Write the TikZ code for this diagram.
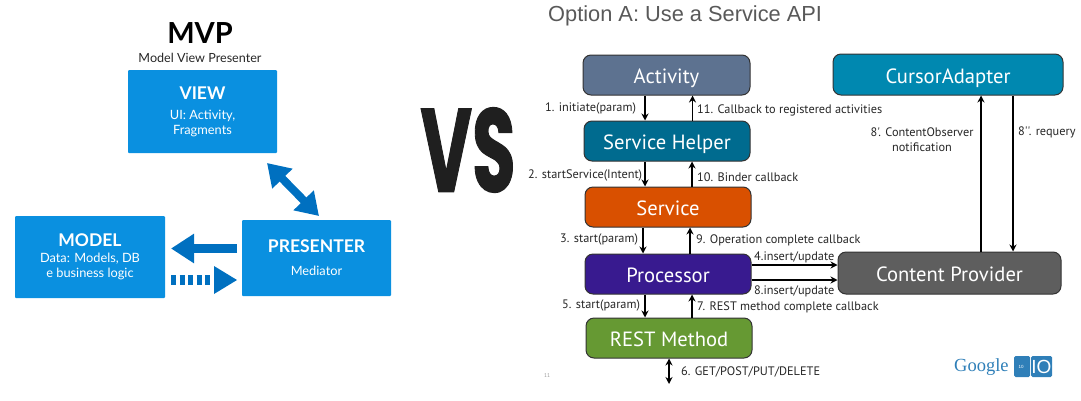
\documentclass[tikz,border=0pt]{standalone}
\usepackage{fontspec}
\usetikzlibrary{arrows.meta,calc}
\setmainfont{Lato}
\newfontfamily\slidefont{PT Sans}
\newfontfamily\titlefont{Liberation Sans}
\newfontfamily\logofont{Liberation Serif}
\newfontfamily\brushfont[FakeBold=1.2]{Poppins Bold}
\definecolor{mvpblue}{HTML}{0A90E0}
\definecolor{mvparrow}{HTML}{0070C0}
\definecolor{activityc}{HTML}{5D7290}
\definecolor{helperc}{HTML}{006B8F}
\definecolor{servicec}{HTML}{D95000}
\definecolor{processorc}{HTML}{381A8F}
\definecolor{restc}{HTML}{669933}
\definecolor{cursorc}{HTML}{0088B0}
\definecolor{providerc}{HTML}{5E5E5E}
\definecolor{titlegray}{HTML}{595959}
\definecolor{logoblue}{HTML}{2F7FB8}
\newcommand{\boxhead}[1]{{\bfseries\fontsize{17.5}{18}\selectfont #1}}
\newcommand{\boxtext}[1]{{\fontsize{12.8}{15}\selectfont #1}}
\tikzset{
  mvpbox/.style={fill=mvpblue,rounded corners=1pt,inner sep=0pt,text=white,align=center},
  flowbox/.style={draw=black!80,line width=1pt,rounded corners=8pt,inner sep=0pt,text=white,
    text height=18pt,text depth=1pt,font=\slidefont\fontsize{20.6}{22}\selectfont},
  flow/.style={line width=1.6pt,-{Stealth[length=7pt,width=7pt]}},
  flowthin/.style={line width=1.1pt,-{Stealth[length=7pt,width=7pt]}},
  lbl/.style={inner sep=0pt,anchor=west,text=black!85,font=\slidefont\fontsize{12.3}{15}\selectfont},
  bigarrow/.style={line width=9pt,color=mvparrow,-{Triangle[length=23pt,width=28pt]}},
}
\newcommand{\boxat}[7]{\node[#1,minimum width=#5pt-#3pt,minimum height=#6pt-#4pt] (#2) at ({(#3+#5)/2},{(#4+#6)/2}) {#7};}
\begin{document}
\begin{tikzpicture}[x=1pt,y=-1pt]
\useasboundingbox (0,0) rectangle (1081,400);

% MVP side
\node[inner sep=0pt,font=\bfseries\fontsize{29}{30}\selectfont] (mvptitle) at (200,33) {MVP};
\node[inner sep=0pt,font=\fontsize{12.6}{15}\selectfont,text=black!85] (mvpsub) at (200,57.5) {Model View Presenter};
\boxat{mvpbox}{view}{128}{70}{277}{153}{\boxhead{VIEW}\\[8pt]\boxtext{UI: Activity,}\\[3pt]\boxtext{Fragments}}
\boxat{mvpbox}{model}{15}{216}{165}{298}{\boxhead{MODEL}\\[4pt]\boxtext{Data: Models, DB}\\[3pt]\boxtext{e business logic}}
\boxat{mvpbox}{presenter}{242}{220}{391}{296}{\boxhead{PRESENTER}\\[11pt]\boxtext{Mediator}}

\coordinate (vp1) at (267,163);
\coordinate (vp2) at (319,216);
\draw[line width=8pt,color=mvparrow,{Triangle[length=22pt,width=27pt]}-{Triangle[length=22pt,width=27pt]}] (vp1) -- (vp2);
\coordinate (pm1) at (237,248.5);
\coordinate (pm2) at (171,248.5);
\draw[bigarrow] (pm1) -- (pm2);
\coordinate (mp1) at (171,280);
\coordinate (mp2) at (237,280);
\draw[line width=10pt,color=mvparrow,dash pattern=on 5pt off 3.5pt] (mp1) -- (212,280);
\fill[mvparrow] (mp2) -- ++(-23,-14) -- ++(0,28) -- cycle;

% Divider lettering
\node[inner sep=0pt,text=black!88,font=\brushfont\fontsize{118}{118}\selectfont,xscale=.6] (versus) at (468,150) {VS};

% Service API side
\node[inner sep=0pt,anchor=west,text=titlegray,font=\titlefont\fontsize{21.8}{24}\selectfont] (title) at (548,16) {Option A: Use a Service API};

\boxat{flowbox,fill=activityc}{activity}{583}{55}{750}{95}{Activity}
\boxat{flowbox,fill=helperc}{helper}{584}{121}{750}{161}{Service Helper}
\boxat{flowbox,fill=servicec}{service}{585}{187}{751}{227}{Service}
\boxat{flowbox,fill=processorc}{processor}{585}{254}{751}{294}{Processor}
\boxat{flowbox,fill=restc}{rest}{586}{318}{752}{358}{REST Method}
\boxat{flowbox,fill=cursorc}{cursor}{833}{54}{1063}{95}{CursorAdapter}
\boxat{flowbox,fill=providerc}{provider}{838}{252}{1061}{294}{Content Provider}

\draw[flow] (activity.south -| 645,0) -- (helper.north -| 645,0);
\draw[flow] (helper.north -| 692.5,0) -- (activity.south -| 692.5,0);
\draw[flow] (helper.south -| 645,0) -- (service.north -| 645,0);
\draw[flow] (service.north -| 692,0) -- (helper.south -| 692,0);
\draw[flow] (service.south -| 643,0) -- (processor.north -| 643,0);
\draw[flow] (processor.north -| 690,0) -- (service.south -| 690,0);
\draw[flow] (processor.south -| 645,0) -- (rest.north -| 645,0);
\draw[flow] (rest.north -| 692,0) -- (processor.south -| 692,0);
\draw[flowthin] (processor.east |- 0,265) -- (provider.west |- 0,265);
\draw[flow] (processor.east |- 0,280) -- (provider.west |- 0,280);
\draw[flow] (provider.north -| 981,0) -- (cursor.south -| 981,0);
\draw[flowthin] (cursor.south -| 1013,0) -- (provider.north -| 1013,0);
\coordinate (netend) at (669,384);
\draw[flow,{Stealth[length=7pt,width=7pt]}-{Stealth[length=7pt,width=7pt]}] (rest.south -| netend) -- (netend);

\node[lbl] (l1) at (545,108) {1. initiate(param)};
\node[lbl] (l11) at (697,110) {11. Callback to registered activities};
\node[lbl] (l2) at (528,175) {2. startService(Intent)};
\node[lbl] (l10) at (697,177) {10. Binder callback};
\node[lbl] (l3) at (560,239) {3. start(param)};
\node[lbl] (l9) at (696,240) {9. Operation complete callback};
\node[lbl] (l4) at (754,257) {4.insert/update};
\node[lbl] (l8) at (754,291) {8.insert/update};
\node[lbl] (l5) at (562,305) {5. start(param)};
\node[lbl] (l7) at (697,307) {7. REST method complete callback};
\node[lbl] (l6) at (681,372) {6. GET/POST/PUT/DELETE};
\node[lbl,anchor=center,align=center] (l8a) at (922,139.5) {8'. ContentObserver\\notification};
\node[lbl] (l8b) at (1018,132) {8''. requery};
\node[inner sep=0pt,text=black!40,font=\slidefont\fontsize{5.5}{6}\selectfont] (pageno) at (547,376) {11};

% Conference mark
\node[inner sep=0pt,anchor=west,text=logoblue,font=\logofont\fontsize{18.5}{20}\selectfont] (google) at (954,367) {Google};
\fill[logoblue,rounded corners=1.5pt] (1014,356) rectangle (1030,377);
\fill[logoblue,rounded corners=1.5pt] (1031,356) rectangle (1052,377);
\node[inner sep=0pt,text=white,font=\titlefont\fontsize{4.5}{5}\selectfont] (ioyear) at (1021,367) {10};
\node[inner sep=0pt,text=white,font=\titlefont\fontsize{19}{20}\selectfont] (ioi) at (1034,366.5) {I};
\node[inner sep=0pt,text=white,font=\titlefont\fontsize{19}{20}\selectfont] (ioo) at (1044,366.5) {O};
\end{tikzpicture}
\end{document}
